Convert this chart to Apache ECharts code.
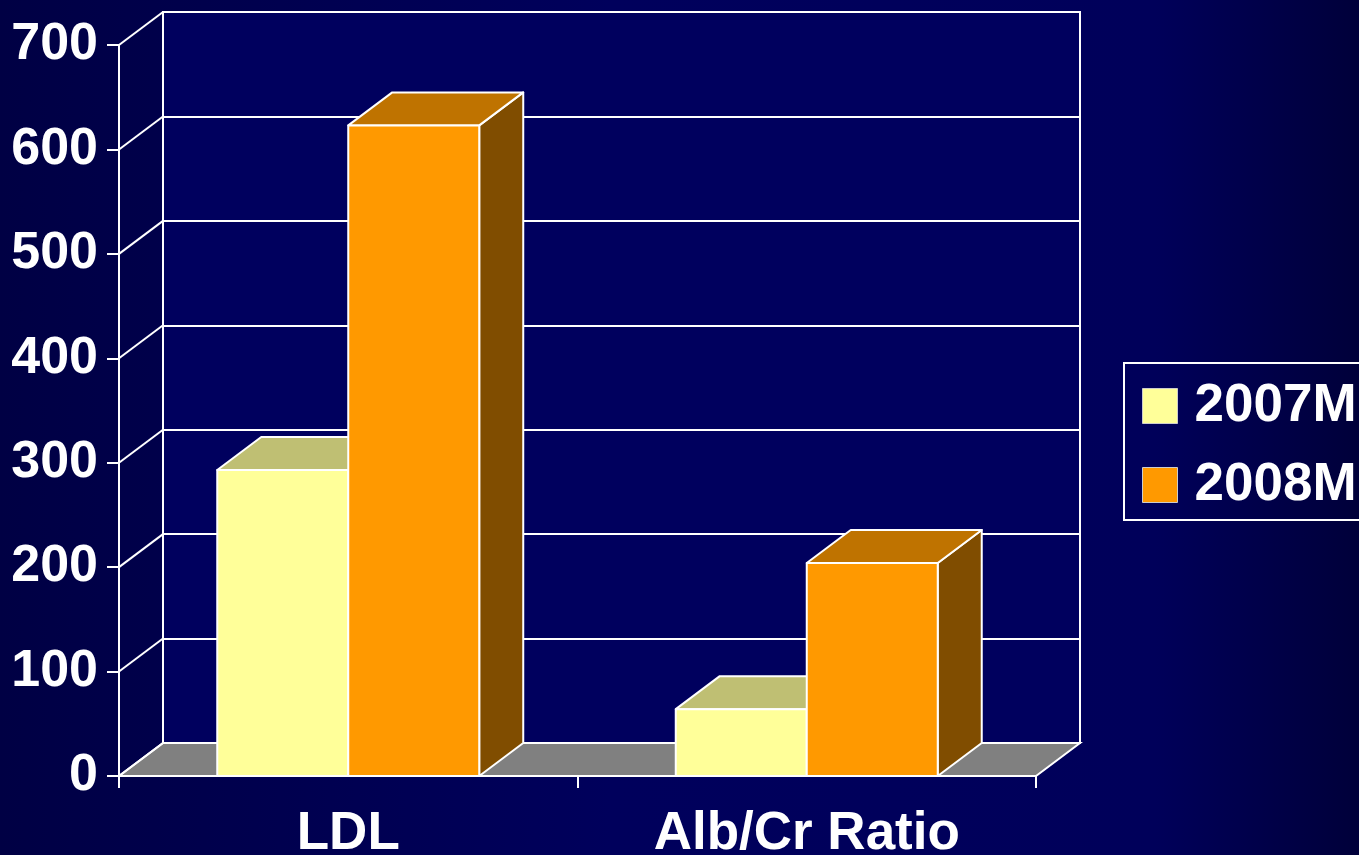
<!DOCTYPE html>
<html>
<head>
<meta charset="utf-8">
<script src="https://cdn.jsdelivr.net/npm/echarts@6/dist/echarts.min.js"></script>
<style>
  html, body { margin: 0; padding: 0; }
  #chart { width: 1359px; height: 855px; }
</style>
</head>
<body>
<div id="chart"></div>
<script>
const categories = ['LDL', 'Alb/Cr Ratio']
const seriesNames = ['2007M', '2008M']
const values2007 = [293, 64]
const values2008 = [623, 204]
const yTicks = [0, 100, 200, 300, 400, 500, 600, 700]

// depth of the fake 3d box, in pixels
const DX = 44
const DY = -33
const BAR_RATIO = 0.2857
const FONT = "'Liberation Sans', Arial, sans-serif"

const faceColors = [
  { front: '#ffff99', top: '#bfbf73', side: '#80804d' },
  { front: '#ff9900', top: '#bf7300', side: '#804d00' }
]

const chart = echarts.init(document.getElementById('chart'))

function wallItem(params, api) {
  const cs = params.coordSys
  const v = api.value(1)
  const y = api.coord([0, v])[1]
  const children = []
  if (v === 0) {
    // floor
    const by = cs.y + cs.height
    children.push({
      type: 'polygon',
      shape: {
        points: [
          [cs.x, by],
          [cs.x + cs.width, by],
          [cs.x + cs.width + DX, by + DY],
          [cs.x + DX, by + DY]
        ]
      },
      style: { fill: '#808080', stroke: '#ffffff', lineWidth: 2 }
    })
  }
  children.push({
    type: 'line',
    shape: { x1: cs.x, y1: y, x2: cs.x + DX, y2: y + DY },
    style: { stroke: '#ffffff', lineWidth: 2 }
  })
  return { type: 'group', children: children }
}

function barItem(idx) {
  return function (params, api) {
    const ci = api.value(0)
    const v = api.value(1)
    const base = api.coord([ci, 0])
    const top = api.coord([ci, v])
    const w = api.size([1, 0])[0] * BAR_RATIO
    const x0 = idx === 0 ? base[0] - w : base[0]
    const x1 = x0 + w
    const by = base[1]
    const ty = top[1]
    const c = faceColors[idx]
    const line = { stroke: '#ffffff', lineWidth: 2, lineJoin: 'round' }
    return {
      type: 'group',
      children: [
        {
          type: 'polygon',
          shape: { points: [[x1, by], [x1, ty], [x1 + DX, ty + DY], [x1 + DX, by + DY]] },
          style: Object.assign({ fill: c.side }, line)
        },
        {
          type: 'polygon',
          shape: { points: [[x0, ty], [x1, ty], [x1 + DX, ty + DY], [x0 + DX, ty + DY]] },
          style: Object.assign({ fill: c.top }, line)
        },
        {
          type: 'rect',
          shape: { x: x0, y: ty, width: w, height: by - ty },
          style: Object.assign({ fill: c.front }, line)
        }
      ]
    }
  }
}

const option = {
  animation: false,
  backgroundColor: new echarts.graphic.LinearGradient(0, 0, 1, 0, [
    { offset: 0, color: '#000044' },
    { offset: 0.45, color: '#00005c' },
    { offset: 0.85, color: '#00005a' },
    { offset: 1, color: '#00003a' }
  ]),
  legend: {
    orient: 'vertical',
    left: 1124,
    top: 363,
    itemWidth: 35,
    itemHeight: 35,
    itemGap: 19,
    padding: [13, 20, 5, 18],
    borderColor: '#ffffff',
    borderWidth: 2,
    textStyle: {
      color: '#ffffff',
      fontSize: 53,
      fontWeight: 'bold',
      fontFamily: FONT,
      lineHeight: 60,
      padding: [0, 0, 0, 12]
    },
    data: [
      { name: seriesNames[0], icon: 'rect', itemStyle: { color: faceColors[0].front, borderColor: '#cccccc', borderWidth: 1 } },
      { name: seriesNames[1], icon: 'rect', itemStyle: { color: faceColors[1].front, borderColor: '#cccccc', borderWidth: 1 } }
    ]
  },
  grid: [
    { left: 119, top: 45, width: 917, height: 731, outerBoundsMode: 'none', containLabel: false },
    {
      left: 163, top: 12, width: 917, height: 731,
      outerBoundsMode: 'none', containLabel: false,
      show: true, backgroundColor: '#00005e', borderColor: '#ffffff', borderWidth: 2
    }
  ],
  xAxis: [
    {
      gridIndex: 0,
      type: 'category',
      data: categories,
      axisLine: { show: true, lineStyle: { color: '#ffffff', width: 2 } },
      axisTick: { show: true, length: 12, lineStyle: { color: '#ffffff', width: 2 } },
      axisLabel: { color: '#ffffff', fontSize: 53, fontWeight: 'bold', fontFamily: FONT, margin: 32 },
      splitLine: { show: false }
    },
    { gridIndex: 1, type: 'category', data: categories, show: false }
  ],
  yAxis: [
    {
      gridIndex: 0,
      type: 'value',
      min: 0,
      max: 700,
      interval: 100,
      axisLine: { show: true, lineStyle: { color: '#ffffff', width: 2 } },
      axisTick: { show: true, length: 12, lineStyle: { color: '#ffffff', width: 2 } },
      axisLabel: { color: '#ffffff', fontSize: 52, fontWeight: 'bold', fontFamily: FONT, margin: 21 },
      splitLine: { show: false }
    },
    {
      gridIndex: 1,
      type: 'value',
      min: 0,
      max: 700,
      interval: 100,
      axisLine: { show: false },
      axisTick: { show: false },
      axisLabel: { show: false },
      splitLine: { show: true, lineStyle: { color: '#ffffff', width: 2 } }
    }
  ],
  series: [
    {
      name: 'walls',
      type: 'custom',
      silent: true,
      xAxisIndex: 0,
      yAxisIndex: 0,
      z: 1,
      renderItem: wallItem,
      data: yTicks.map(v => [0, v])
    },
    {
      name: seriesNames[0],
      type: 'custom',
      xAxisIndex: 0,
      yAxisIndex: 0,
      z: 3,
      itemStyle: { color: faceColors[0].front },
      renderItem: barItem(0),
      data: categories.map((c, i) => [i, values2007[i]])
    },
    {
      name: seriesNames[1],
      type: 'custom',
      xAxisIndex: 0,
      yAxisIndex: 0,
      z: 4,
      itemStyle: { color: faceColors[1].front },
      renderItem: barItem(1),
      data: categories.map((c, i) => [i, values2008[i]])
    }
  ]
}

chart.setOption(option)
</script>
</body>
</html>
